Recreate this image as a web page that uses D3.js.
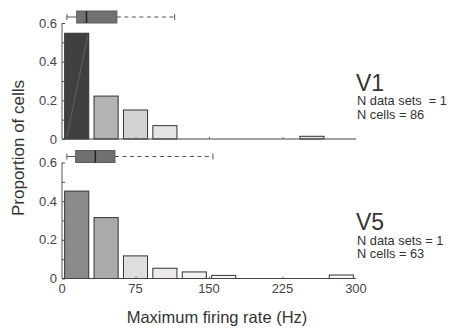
<!DOCTYPE html>
<html>
<head>
<meta charset="utf-8">
<script src="https://cdn.jsdelivr.net/npm/d3@7"></script>
<style>
  body { margin: 0; background: #fff; }
  text { font-family: "Liberation Sans", Arial, sans-serif; }
</style>
</head>
<body>
<svg id="chart" width="450" height="329"></svg>
<script>
// bins of 30 Hz, 0..300
const binStarts = [0, 30, 60, 90, 120, 150, 180, 210, 240, 270];
const binWidth = 30;
const xTicks = [0, 75, 150, 225, 300];
const yTicks = [0, 0.2, 0.4, 0.6];
const yMinor = [0.1, 0.3, 0.5];

// proportion of cells per bin
const v1Props = [0.547, 0.222, 0.150, 0.069, 0, 0, 0, 0, 0.014, 0];
const v5Props = [0.452, 0.315, 0.117, 0.053, 0.034, 0.016, 0, 0, 0, 0.018];

// box plot summaries (Hz): min, q1, median, q3, max
const v1Box = [5, 15, 25, 56, 115];
const v5Box = [5, 14, 34, 54, 154];

const v1Info = ['V1', 'N data sets  = 1', 'N cells = 86'];
const v5Info = ['V5', 'N data sets = 1', 'N cells = 63'];

// bar greys
const v1Fill = ['#404040', '#b3b3b3', '#d3d3d3', '#e4e4e4', '#eee', '#eee', '#eee', '#eee', '#e6e6e6', '#eee'];
const v5Fill = ['#8b8b8b', '#ababab', '#dedede', '#ede9eb', '#f1f1f1', '#f7f7f7', '#fafafa', '#fafafa', '#fafafa', '#f9f9f9'];

const svg = d3.select('#chart');
const x = d3.scaleLinear().domain([0, 300]).range([62, 356]);

function panel(props, fills, box, info, y0, showLabels) {
  const y = d3.scaleLinear().domain([0, 0.6]).range([y0, y0 - 116]);
  const g = svg.append('g');

  // bars
  const bw = (x(binWidth) - x(0)) * 0.82;
  g.selectAll('.bar')
    .data(props.map((p, i) => ({ start: binStarts[i], p: p, fill: fills[i] })).filter(d => d.p > 0))
    .enter().append('rect')
    .attr('class', 'bar')
    .attr('x', d => x(d.start + binWidth / 2) - bw / 2)
    .attr('y', d => y(d.p))
    .attr('width', bw)
    .attr('height', d => y(0) - y(d.p))
    .attr('fill', d => d.fill)
    .attr('stroke', '#333')
    .attr('stroke-width', 1);

  // y axis
  const yAxis = d3.axisRight(y).tickValues(yTicks.concat(yMinor)).tickSize(3).tickFormat('');
  const ya = g.append('g').attr('transform', 'translate(' + x(0) + ',0)').call(yAxis);
  ya.select('.domain').attr('stroke', '#555').attr('d', 'M0,' + y(0) + 'V' + y(0.6));
  ya.selectAll('line').attr('stroke', '#555');
  g.selectAll('.ylab')
    .data(yTicks)
    .enter().append('text')
    .attr('class', 'ylab')
    .attr('x', x(0) - 5)
    .attr('y', d => y(d) + 4.5)
    .attr('text-anchor', 'end')
    .attr('font-size', 13)
    .attr('fill', '#444')
    .text(d => d);

  // x axis
  const xAxis = d3.axisTop(x).tickValues(xTicks.slice(1, 4)).tickSize(2).tickFormat('');
  const xa = g.append('g').attr('transform', 'translate(0,' + y(0) + ')').call(xAxis);
  xa.select('.domain').attr('stroke', '#444').attr('d', 'M' + x(0) + ',0H' + x(300));
  xa.selectAll('line').attr('stroke', '#666');
  if (showLabels) {
    g.selectAll('.xlab')
      .data(xTicks)
      .enter().append('text')
      .attr('class', 'xlab')
      .attr('x', d => x(d))
      .attr('y', y(0) + 14)
      .attr('text-anchor', 'middle')
      .attr('font-size', 13)
      .attr('fill', '#444')
      .text(d => d);
  }

  // box plot above the histogram
  const bTop = y(0.6) - 12, bBot = y(0.6), bMid = (bTop + bBot) / 2;
  g.append('line').attr('x1', x(box[0])).attr('x2', x(box[1])).attr('y1', bMid).attr('y2', bMid)
    .attr('stroke', '#555');
  g.append('line').attr('x1', x(box[3])).attr('x2', x(box[4])).attr('y1', bMid).attr('y2', bMid)
    .attr('stroke', '#555').attr('stroke-dasharray', '4,3.5');
  [box[0], box[4]].forEach(v => {
    g.append('line').attr('x1', x(v)).attr('x2', x(v)).attr('y1', bMid - 3).attr('y2', bMid + 3)
      .attr('stroke', '#555');
  });
  g.append('rect').attr('x', x(box[1])).attr('y', bTop)
    .attr('width', x(box[3]) - x(box[1])).attr('height', bBot - bTop)
    .attr('fill', '#707070').attr('stroke', '#5a5a5a');
  g.append('line').attr('x1', x(box[2])).attr('x2', x(box[2])).attr('y1', bTop).attr('y2', bBot)
    .attr('stroke', '#222').attr('stroke-width', 1.5);

  // area label
  g.append('text').attr('x', 356).attr('y', y(0) - 48.5).attr('font-size', 23).attr('fill', '#333').text(info[0]);
  g.append('text').attr('x', 357).attr('y', y(0) - 34).attr('font-size', 12.8).attr('fill', '#333')
    .style('white-space', 'pre').text(info[1]);
  g.append('text').attr('x', 357).attr('y', y(0) - 20.5).attr('font-size', 12.8).attr('fill', '#333').text(info[2]);
  return y;
}

const yTop = panel(v1Props, v1Fill, v1Box, v1Info, 139, false);
// faint streak inside the first V1 bar
const bw1 = (x(binWidth) - x(0)) * 0.82;
svg.append('line')
  .attr('x1', x(binWidth / 2) - bw1 / 2 + 2).attr('y1', yTop(0) - 1)
  .attr('x2', x(binWidth / 2) + bw1 / 2 - 1).attr('y2', yTop(v1Props[0]) + 2)
  .attr('stroke', '#6a6a6a').attr('stroke-width', 0.8);

panel(v5Props, v5Fill, v5Box, v5Info, 278.5, true);

svg.append('text')
  .attr('x', 217).attr('y', 323)
  .attr('text-anchor', 'middle')
  .attr('font-size', 16.5)
  .attr('fill', '#333')
  .text('Maximum firing rate (Hz)');

svg.append('text')
  .attr('transform', 'translate(24,148) rotate(-90)')
  .attr('text-anchor', 'middle')
  .attr('font-size', 17)
  .attr('fill', '#333')
  .text('Proportion of cells');
</script>
</body>
</html>
